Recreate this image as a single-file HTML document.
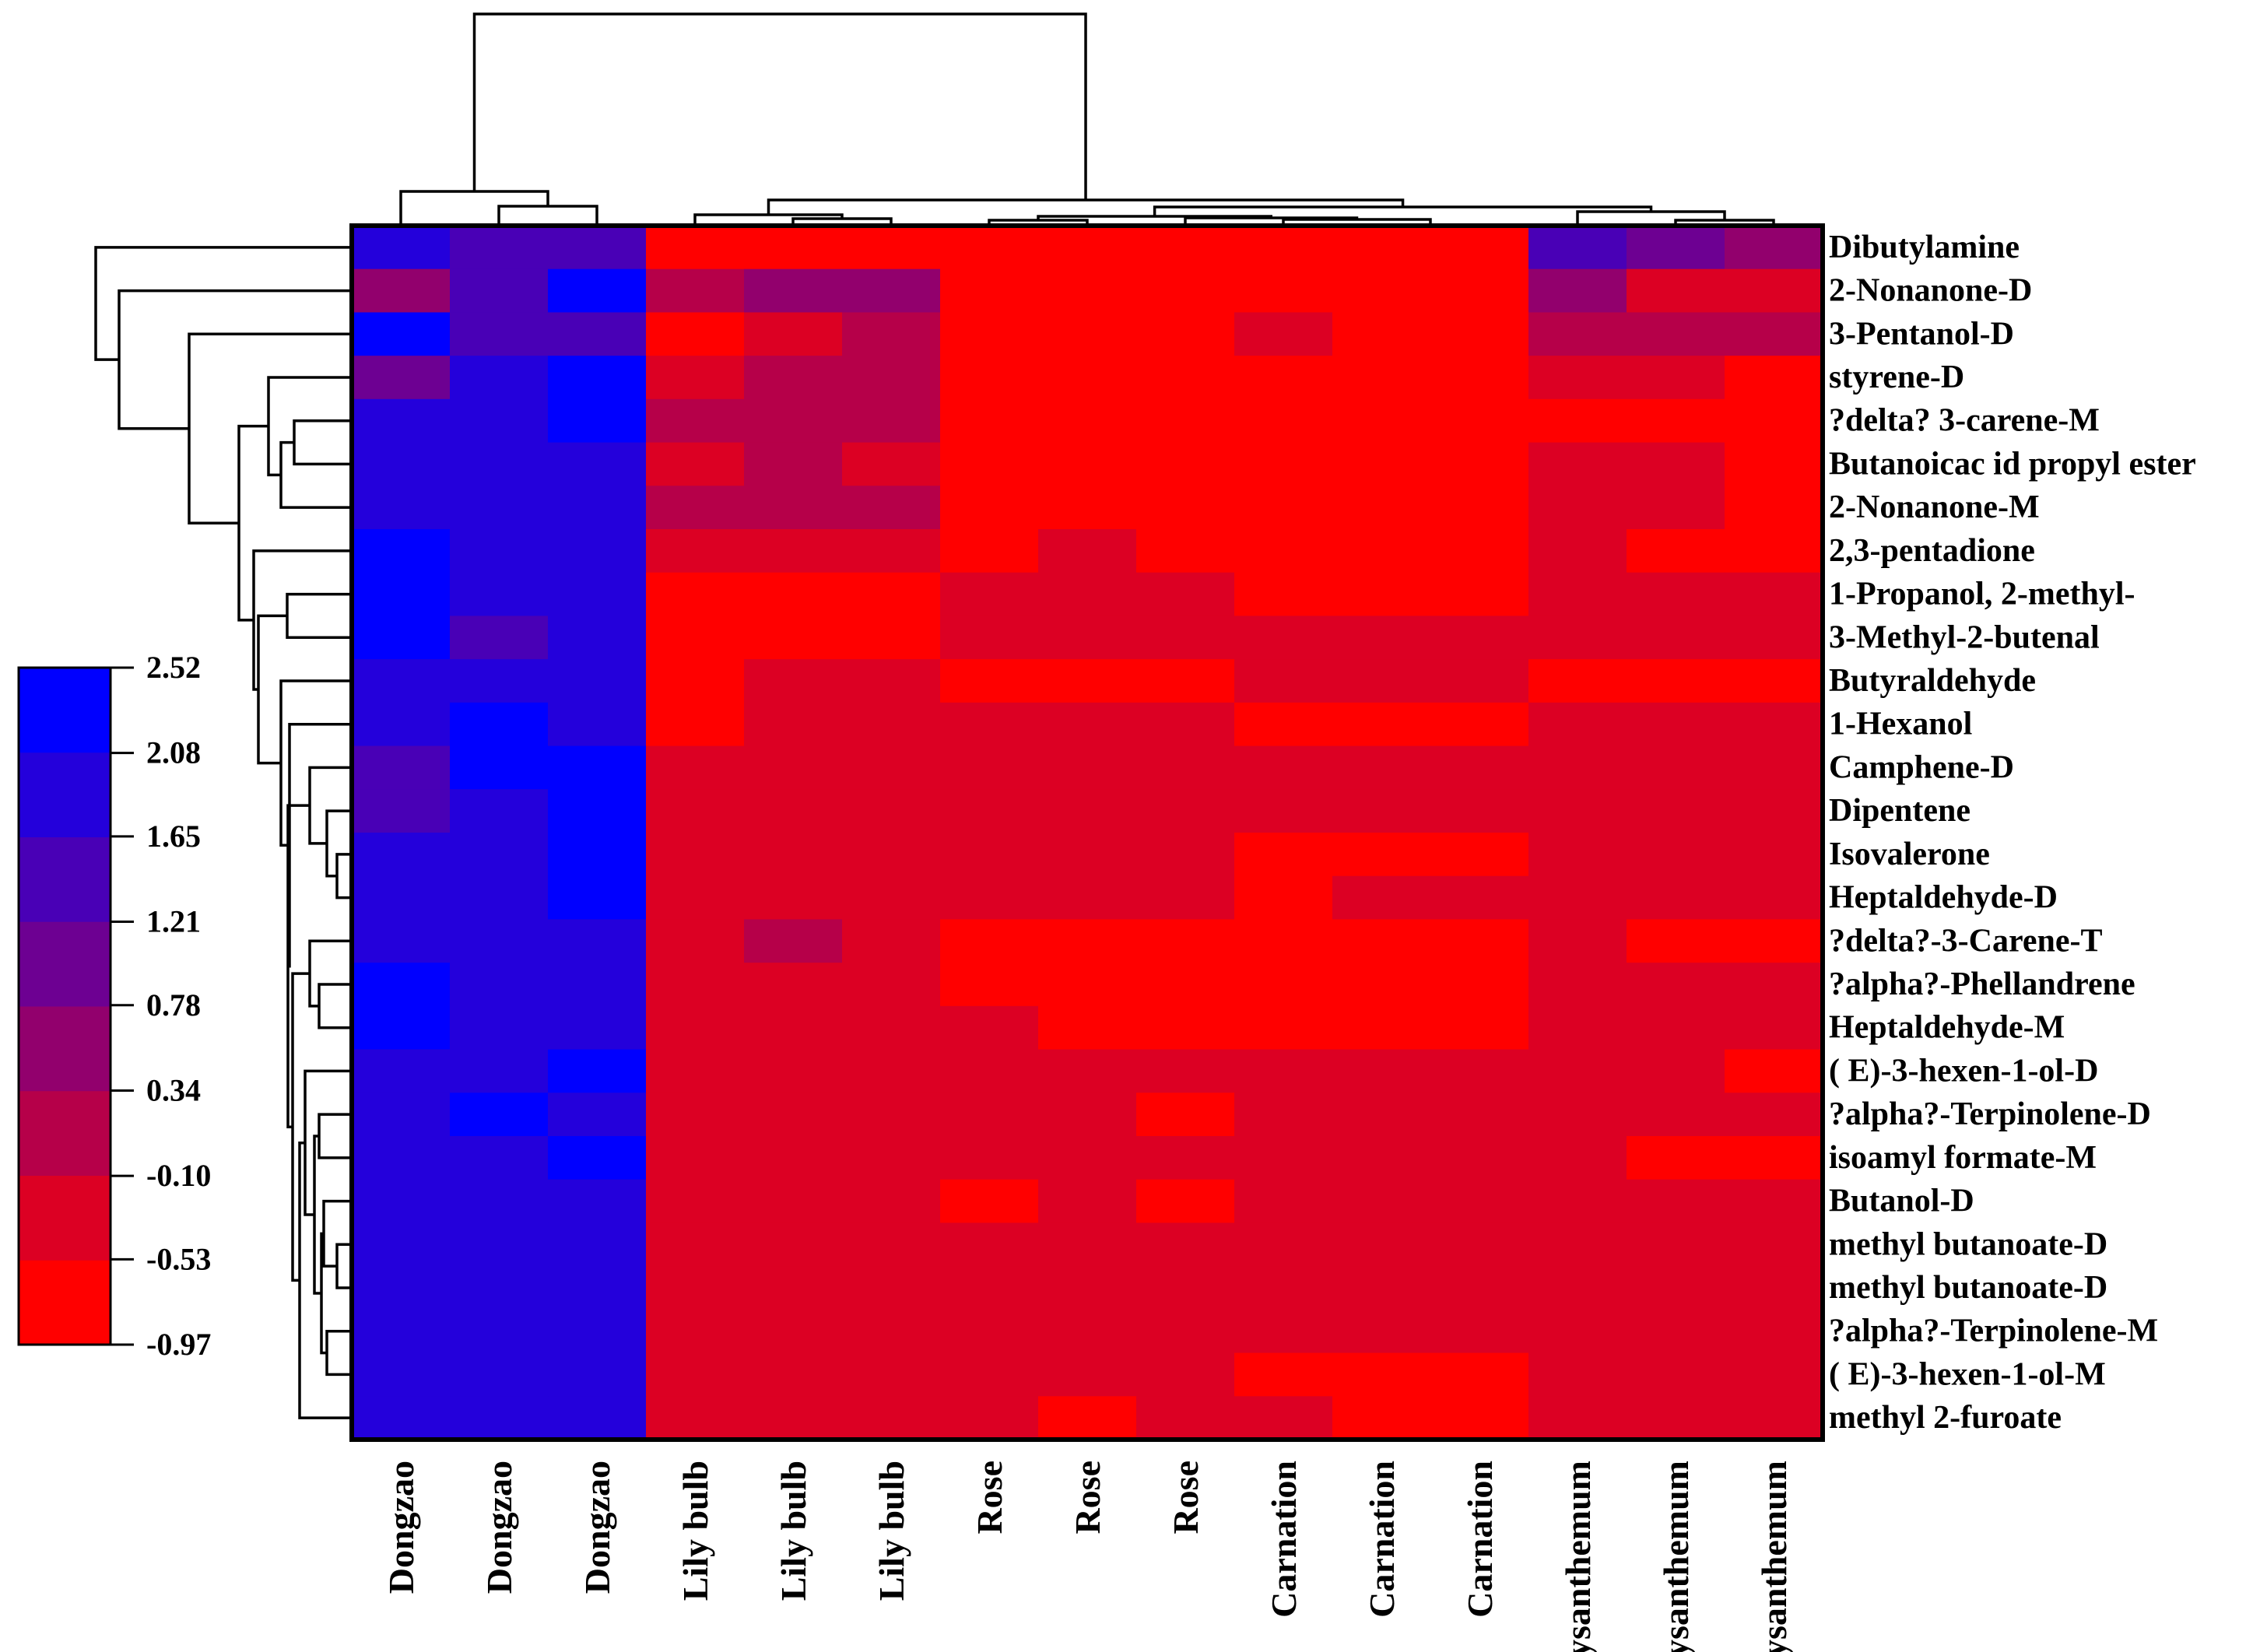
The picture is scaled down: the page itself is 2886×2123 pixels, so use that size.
<!DOCTYPE html>
<html><head><meta charset="utf-8"><style>
html,body{margin:0;padding:0;background:#fff;}
svg{display:block;}
text{font-family:"Liberation Serif",serif;font-weight:bold;fill:#000;}
</style></head><body>
<svg id="chart" width="2886" height="2123" viewBox="0 0 2886 2123"></svg>
<script>
const rowLabels=["Dibutylamine","2-Nonanone-D","3-Pentanol-D","styrene-D","?delta? 3-carene-M","Butanoicac id propyl ester","2-Nonanone-M","2,3-pentadione","1-Propanol, 2-methyl-","3-Methyl-2-butenal","Butyraldehyde","1-Hexanol","Camphene-D","Dipentene","Isovalerone","Heptaldehyde-D","?delta?-3-Carene-T","?alpha?-Phellandrene","Heptaldehyde-M","( E)-3-hexen-1-ol-D","?alpha?-Terpinolene-D","isoamyl formate-M","Butanol-D","methyl butanoate-D","methyl butanoate-D","?alpha?-Terpinolene-M","( E)-3-hexen-1-ol-M","methyl 2-furoate"];
const colLabels=["Dongzao","Dongzao","Dongzao","Lily bulb","Lily bulb","Lily bulb","Rose","Rose","Rose","Carnation","Carnation","Carnation","Chrysanthemum","Chrysanthemum","Chrysanthemum"];
const legendTicks=[2.52,2.08,1.65,1.21,0.78,0.34,-0.10,-0.53,-0.97];
const bandColors=["#ff0000","#dc0023","#b60049","#92006d","#6d0092","#4900b6","#2400db","#0000ff"];
const values=[
[1.87,1.43,1.43,-0.75,-0.75,-0.75,-0.75,-0.75,-0.75,-0.75,-0.75,-0.75,1.43,1.0,0.56],
[0.56,1.43,2.30,0.12,0.56,0.56,-0.75,-0.75,-0.75,-0.75,-0.75,-0.75,0.56,-0.31,-0.31],
[2.30,1.43,1.43,-0.75,-0.31,0.12,-0.75,-0.75,-0.75,-0.31,-0.75,-0.75,0.12,0.12,0.12],
[1.0,1.87,2.30,-0.31,0.12,0.12,-0.75,-0.75,-0.75,-0.75,-0.75,-0.75,-0.31,-0.31,-0.75],
[1.87,1.87,2.30,0.12,0.12,0.12,-0.75,-0.75,-0.75,-0.75,-0.75,-0.75,-0.75,-0.75,-0.75],
[1.87,1.87,1.87,-0.31,0.12,-0.31,-0.75,-0.75,-0.75,-0.75,-0.75,-0.75,-0.31,-0.31,-0.75],
[1.87,1.87,1.87,0.12,0.12,0.12,-0.75,-0.75,-0.75,-0.75,-0.75,-0.75,-0.31,-0.31,-0.75],
[2.30,1.87,1.87,-0.31,-0.31,-0.31,-0.75,-0.31,-0.75,-0.75,-0.75,-0.75,-0.31,-0.75,-0.75],
[2.30,1.87,1.87,-0.75,-0.75,-0.75,-0.31,-0.31,-0.31,-0.75,-0.75,-0.75,-0.31,-0.31,-0.31],
[2.30,1.43,1.87,-0.75,-0.75,-0.75,-0.31,-0.31,-0.31,-0.31,-0.31,-0.31,-0.31,-0.31,-0.31],
[1.87,1.87,1.87,-0.75,-0.31,-0.31,-0.75,-0.75,-0.75,-0.31,-0.31,-0.31,-0.75,-0.75,-0.75],
[1.87,2.30,1.87,-0.75,-0.31,-0.31,-0.31,-0.31,-0.31,-0.75,-0.75,-0.75,-0.31,-0.31,-0.31],
[1.43,2.30,2.30,-0.31,-0.31,-0.31,-0.31,-0.31,-0.31,-0.31,-0.31,-0.31,-0.31,-0.31,-0.31],
[1.43,1.87,2.30,-0.31,-0.31,-0.31,-0.31,-0.31,-0.31,-0.31,-0.31,-0.31,-0.31,-0.31,-0.31],
[1.87,1.87,2.30,-0.31,-0.31,-0.31,-0.31,-0.31,-0.31,-0.75,-0.75,-0.75,-0.31,-0.31,-0.31],
[1.87,1.87,2.30,-0.31,-0.31,-0.31,-0.31,-0.31,-0.31,-0.75,-0.31,-0.31,-0.31,-0.31,-0.31],
[1.87,1.87,1.87,-0.31,0.12,-0.31,-0.75,-0.75,-0.75,-0.75,-0.75,-0.75,-0.31,-0.75,-0.75],
[2.30,1.87,1.87,-0.31,-0.31,-0.31,-0.75,-0.75,-0.75,-0.75,-0.75,-0.75,-0.31,-0.31,-0.31],
[2.30,1.87,1.87,-0.31,-0.31,-0.31,-0.31,-0.75,-0.75,-0.75,-0.75,-0.75,-0.31,-0.31,-0.31],
[1.87,1.87,2.30,-0.31,-0.31,-0.31,-0.31,-0.31,-0.31,-0.31,-0.31,-0.31,-0.31,-0.31,-0.75],
[1.87,2.30,1.87,-0.31,-0.31,-0.31,-0.31,-0.31,-0.75,-0.31,-0.31,-0.31,-0.31,-0.31,-0.31],
[1.87,1.87,2.30,-0.31,-0.31,-0.31,-0.31,-0.31,-0.31,-0.31,-0.31,-0.31,-0.31,-0.75,-0.75],
[1.87,1.87,1.87,-0.31,-0.31,-0.31,-0.75,-0.31,-0.75,-0.31,-0.31,-0.31,-0.31,-0.31,-0.31],
[1.87,1.87,1.87,-0.31,-0.31,-0.31,-0.31,-0.31,-0.31,-0.31,-0.31,-0.31,-0.31,-0.31,-0.31],
[1.87,1.87,1.87,-0.31,-0.31,-0.31,-0.31,-0.31,-0.31,-0.31,-0.31,-0.31,-0.31,-0.31,-0.31],
[1.87,1.87,1.87,-0.31,-0.31,-0.31,-0.31,-0.31,-0.31,-0.31,-0.31,-0.31,-0.31,-0.31,-0.31],
[1.87,1.87,1.87,-0.31,-0.31,-0.31,-0.31,-0.31,-0.31,-0.75,-0.75,-0.75,-0.31,-0.31,-0.31],
[1.87,1.87,1.87,-0.31,-0.31,-0.31,-0.31,-0.75,-0.31,-0.31,-0.75,-0.75,-0.31,-0.31,-0.31]
];
// dendrogram trees: [left, right, height]
const colTree=[[0,[1,2,265],246],[[3,[4,5,281],276],[[[6,7,283],[8,[9,[10,11,289],282],280],278],[12,[13,14,283],272],266],257],18];
const rowTree=[0,[1,[2,[[3,[[4,5,378],6,361],345],[7,[[8,9,369],[10,[11,[[12,[13,[14,15,433],420],398],[[16,[17,18,410],398],[[19,[[20,21,410],[[22,[23,24,433],416],[25,26,420],413],404],392],27,385],376],370],372],361],332],326],307],243],153],123];

const NS="http://www.w3.org/2000/svg";
const svg=document.getElementById('chart');
function mk(tag,attrs,parent){const e=document.createElementNS(NS,tag);for(const k in attrs)e.setAttribute(k,attrs[k]);(parent||svg).appendChild(e);return e;}
const X0=452,X1=2342,Y0=290,Y1=1850;
const cw=(X1-X0)/colLabels.length, rh=(Y1-Y0)/rowLabels.length;
const xCol=j=>X0+cw*(j+0.5), yRow=i=>Y0+rh*(i+0.5);
const vmin=legendTicks[legendTicks.length-1], vmax=legendTicks[0];
function colorOf(v){let b=Math.floor((v-vmin)/(vmax-vmin)*bandColors.length);b=Math.max(0,Math.min(bandColors.length-1,b));return bandColors[b];}

const gCells=mk('g',{});


values.forEach((row,i)=>row.forEach((v,j)=>{
  const r=mk('rect',{x:X0+cw*j,y:Y0+rh*i,width:cw+0.6,height:rh+0.6,fill:colorOf(v)},gCells);
  
  
}));
const frame=mk('rect',{x:X0,y:Y0,width:X1-X0,height:Y1-Y0,fill:'none',stroke:'#000','stroke-width':6});



rowLabels.forEach((t,i)=>{
  const e=mk('text',{x:X1+8,y:yRow(i)+13,'font-size':42});
  e.textContent=t;
  
  
});
colLabels.forEach((t,j)=>{
  const x=xCol(j)+16,y=1877;
  const e=mk('text',{x:x,y:y,'font-size':46,'text-anchor':'end',transform:`rotate(-90 ${x} ${y})`});
  e.textContent=t;
  
  
});

function drawTree(node,g,horizontalLeaves){
  if(typeof node==='number'){return horizontalLeaves?[xCol(node),Y0]:[yRow(node),X0];}
  const a=drawTree(node[0],g,horizontalLeaves), b=drawTree(node[1],g,horizontalLeaves), h=node[2];
  let d;
  if(horizontalLeaves) d=`M${a[0]},${a[1]}V${h}H${b[0]}V${b[1]}`;
  else d=`M${a[1]},${a[0]}H${h}V${b[0]}H${b[1]}`;
  mk('path',{d:d,fill:'none',stroke:'#000','stroke-width':3.5},g);
  return [(a[0]+b[0])/2,h];
}
const gTop=mk('g',{});


drawTree(colTree,gTop,true);
const gLeft=mk('g',{});


drawTree(rowTree,gLeft,false);

const LX0=24,LX1=142,LY0=858,LY1=1728;
const gLeg=mk('g',{});


const bh=(LY1-LY0)/bandColors.length;
bandColors.forEach((c,k)=>{
  const r=mk('rect',{x:LX0,y:LY1-bh*(k+1),width:LX1-LX0,height:bh+0.5,fill:c},gLeg);
  
  
});
mk('rect',{x:LX0,y:LY0,width:LX1-LX0,height:LY1-LY0,fill:'none',stroke:'#000','stroke-width':3},gLeg);
legendTicks.forEach((t,k)=>{
  const y=LY0+(LY1-LY0)*(vmax-t)/(vmax-vmin);
  mk('line',{x1:LX1,x2:172,y1:y,y2:y,stroke:'#000','stroke-width':3},gLeg);
  const e=mk('text',{x:188,y:y+13,'font-size':40},gLeg);
  e.textContent=t.toFixed(2);
  
  
});
</script>
</body></html>
